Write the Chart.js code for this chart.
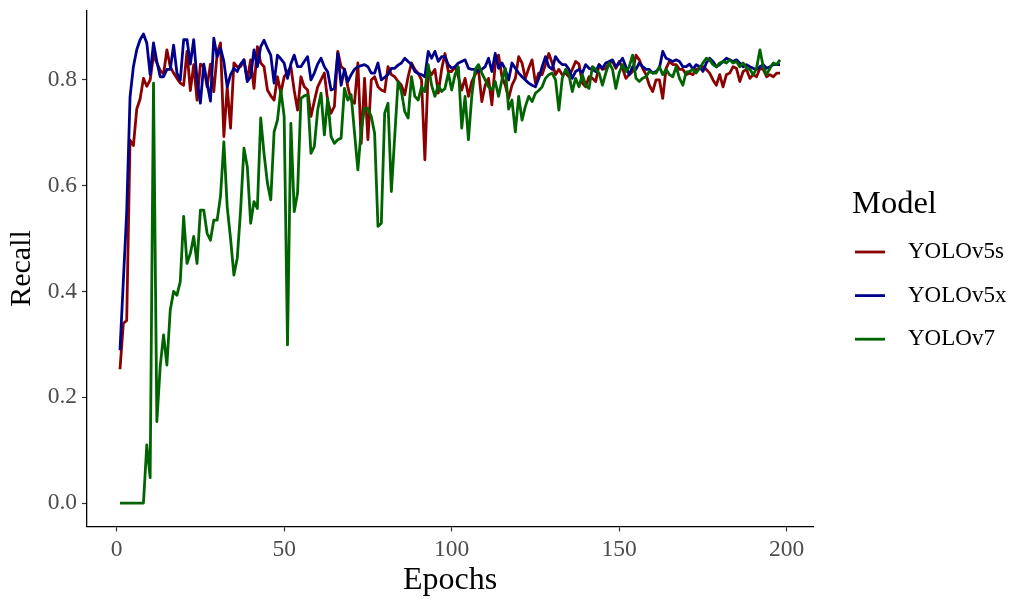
<!DOCTYPE html>
<html>
<head>
<meta charset="utf-8">
<script src="https://cdn.jsdelivr.net/npm/chart.js@4.4.1/dist/chart.umd.min.js"></script>
<style>
html,body{margin:0;padding:0;background:#ffffff;}
#wrap{width:1022px;height:602px;position:relative;}
</style>
</head>
<body>
<div id="wrap"><canvas id="c" width="1022" height="602"></canvas></div>
<script>
// ---- data (Recall per epoch, epochs 1..198) ----
const seriesNames = ["YOLOv5s", "YOLOv5x", "YOLOv7"];
const seriesColors = ["#8B0000", "#00008B", "#006400"];

const yolov5s = [
0.253,0.340,0.345,0.686,0.676,0.745,0.764,0.803,0.788,0.800,
0.847,0.832,0.818,0.811,0.857,0.825,0.813,0.803,0.794,0.790,
0.854,0.780,0.829,0.762,0.830,0.825,0.787,0.830,0.778,0.850,
0.870,0.693,0.787,0.709,0.832,0.825,0.825,0.838,0.800,0.838,
0.784,0.863,0.832,0.825,0.781,0.770,0.762,0.806,0.775,0.806,
0.815,0.825,0.780,0.743,0.806,0.787,0.781,0.731,0.760,0.787,
0.800,0.813,0.760,0.737,0.750,0.854,0.825,0.820,0.787,0.762,
0.756,0.832,0.680,0.803,0.687,0.800,0.806,0.787,0.781,0.778,
0.825,0.810,0.806,0.797,0.790,0.772,0.806,0.832,0.820,0.813,
0.800,0.649,0.820,0.810,0.820,0.775,0.820,0.850,0.816,0.816,
0.825,0.806,0.781,0.803,0.769,0.797,0.810,0.820,0.759,0.790,
0.803,0.753,0.832,0.847,0.806,0.790,0.765,0.790,0.803,0.844,
0.832,0.803,0.822,0.838,0.794,0.813,0.810,0.829,0.850,0.832,
0.810,0.820,0.810,0.813,0.806,0.820,0.835,0.830,0.794,0.787,
0.806,0.803,0.797,0.829,0.820,0.822,0.832,0.835,0.822,0.835,
0.822,0.803,0.810,0.816,0.847,0.838,0.822,0.810,0.790,0.778,
0.800,0.800,0.765,0.822,0.835,0.829,0.829,0.820,0.820,0.810,
0.813,0.810,0.820,0.822,0.825,0.820,0.813,0.800,0.790,0.810,
0.787,0.810,0.813,0.825,0.822,0.797,0.816,0.820,0.803,0.810,
0.806,0.822,0.820,0.806,0.810,0.806,0.813,0.813
];

const yolov5x = [
0.289,0.420,0.550,0.768,0.825,0.857,0.876,0.887,0.870,0.810,
0.870,0.835,0.806,0.806,0.820,0.820,0.866,0.813,0.800,0.876,
0.876,0.830,0.876,0.800,0.756,0.830,0.794,0.760,0.879,0.844,
0.860,0.835,0.787,0.810,0.822,0.816,0.830,0.838,0.797,0.806,
0.857,0.825,0.863,0.875,0.860,0.847,0.794,0.847,0.840,0.832,
0.803,0.830,0.847,0.825,0.825,0.835,0.844,0.800,0.813,0.830,
0.841,0.825,0.815,0.781,0.784,0.850,0.790,0.820,0.797,0.810,
0.820,0.825,0.827,0.829,0.825,0.813,0.813,0.832,0.800,0.805,
0.810,0.822,0.822,0.828,0.832,0.841,0.835,0.829,0.816,0.812,
0.810,0.806,0.854,0.841,0.854,0.835,0.844,0.844,0.829,0.822,
0.825,0.832,0.835,0.838,0.822,0.820,0.820,0.816,0.820,0.825,
0.841,0.816,0.850,0.822,0.832,0.820,0.800,0.832,0.822,0.813,
0.806,0.800,0.794,0.790,0.787,0.803,0.825,0.844,0.825,0.820,
0.844,0.835,0.829,0.829,0.820,0.803,0.816,0.820,0.813,0.829,
0.822,0.820,0.816,0.829,0.822,0.832,0.835,0.838,0.825,0.832,
0.841,0.825,0.810,0.825,0.820,0.832,0.825,0.820,0.820,0.813,
0.816,0.822,0.854,0.841,0.838,0.835,0.838,0.835,0.825,0.825,
0.830,0.820,0.829,0.825,0.816,0.832,0.841,0.835,0.825,0.829,
0.835,0.841,0.838,0.835,0.838,0.832,0.825,0.829,0.825,0.822,
0.820,0.825,0.829,0.822,0.825,0.829,0.829,0.829
];

const yolov7 = [
0.000,0.000,0.000,0.000,0.000,0.000,0.000,0.000,0.110,0.048,
0.794,0.154,0.258,0.318,0.261,0.365,0.400,0.393,0.419,0.542,
0.453,0.472,0.504,0.453,0.554,0.554,0.510,0.497,0.535,0.535,
0.580,0.683,0.560,0.500,0.431,0.463,0.554,0.671,0.636,0.529,
0.570,0.557,0.728,0.660,0.605,0.573,0.702,0.724,0.781,0.731,
0.299,0.718,0.551,0.586,0.765,0.770,0.772,0.661,0.674,0.743,
0.775,0.696,0.765,0.693,0.680,0.687,0.690,0.784,0.762,0.772,
0.700,0.630,0.706,0.746,0.746,0.731,0.699,0.523,0.529,0.737,
0.756,0.589,0.693,0.797,0.778,0.740,0.728,0.806,0.769,0.762,
0.787,0.778,0.829,0.790,0.769,0.790,0.778,0.784,0.813,0.781,
0.810,0.825,0.709,0.769,0.687,0.769,0.820,0.829,0.813,0.800,
0.787,0.781,0.797,0.769,0.800,0.822,0.745,0.762,0.702,0.769,
0.724,0.750,0.769,0.759,0.775,0.780,0.787,0.803,0.810,0.813,
0.800,0.743,0.803,0.820,0.810,0.778,0.803,0.787,0.810,0.790,
0.784,0.825,0.820,0.813,0.790,0.813,0.832,0.820,0.784,0.813,
0.829,0.816,0.825,0.847,0.803,0.797,0.803,0.806,0.816,0.813,
0.813,0.825,0.810,0.820,0.810,0.806,0.825,0.803,0.790,0.815,
0.816,0.820,0.813,0.822,0.832,0.841,0.838,0.829,0.825,0.832,
0.835,0.832,0.838,0.832,0.835,0.825,0.832,0.822,0.820,0.810,
0.822,0.857,0.825,0.810,0.822,0.832,0.829,0.838
];

const xTicks = [0, 50, 100, 150, 200];
const yTicks = [0.0, 0.2, 0.4, 0.6, 0.8];
const xTitle = "Epochs";
const yTitle = "Recall";
const legendTitle = "Model";

const epochs = yolov5s.map((_, i) => i + 1);
const allSeries = [yolov5s, yolov5x, yolov7];

const FONT = '"Liberation Serif", "Times New Roman", serif';

const datasets = allSeries.map((arr, k) => ({
  label: seriesNames[k],
  data: arr.map((v, i) => ({x: epochs[i], y: v})),
  borderColor: seriesColors[k],
  backgroundColor: seriesColors[k],
  borderWidth: 2.8,
  pointRadius: 0,
  pointHoverRadius: 0,
  tension: 0,
  fill: false,
  borderJoinStyle: 'round',
  borderCapStyle: 'butt',
  order: 2 - k
}));

const legendPlugin = {
  id: 'ggLegend',
  afterDraw(chart) {
    const ctx = chart.ctx;
    ctx.save();
    ctx.textBaseline = 'middle';
    ctx.textAlign = 'left';
    ctx.fillStyle = '#000';
    ctx.font = '32.5px ' + FONT;
    ctx.fillText(legendTitle, 852, 204);
    ctx.font = '23px ' + FONT;
    seriesNames.forEach((name, i) => {
      const y = 252 + i * 43.6;
      ctx.strokeStyle = seriesColors[i];
      ctx.lineWidth = 2.8;
      ctx.lineCap = 'butt';
      ctx.beginPath();
      ctx.moveTo(855, y);
      ctx.lineTo(885, y);
      ctx.stroke();
      ctx.fillStyle = '#000';
      ctx.fillText(name, 908, y);
    });
    ctx.restore();
  }
};

function zeroPad(scale) {
  scale.paddingTop = 0; scale.paddingBottom = 0;
  scale.paddingLeft = 0; scale.paddingRight = 0;
}

new Chart(document.getElementById('c'), {
  type: 'line',
  data: { datasets },
  options: {
    responsive: false,
    animation: false,
    devicePixelRatio: 1,
    events: [],
    layout: { padding: { left: 0, right: 209, top: 10.5, bottom: 0 } },
    plugins: { legend: { display: false }, tooltip: { enabled: false } },
    scales: {
      x: {
        type: 'linear',
        min: -8.85,
        max: 207.85,
        afterBuildTicks(scale) { scale.ticks = xTicks.map(v => ({value: v})); },
        afterFit(scale) { scale.height = 75.5; zeroPad(scale); },
        grid: { drawOnChartArea: false, drawTicks: true, tickLength: 5, color: '#333333', tickWidth: 1.2 },
        border: { display: true, color: '#000000', width: 1.3 },
        ticks: {
          color: '#4D4D4D',
          font: { family: FONT, size: 23.5 },
          padding: 4,
          maxRotation: 0,
          autoSkip: false,
          callback: v => String(v)
        },
        title: {
          display: true,
          text: xTitle,
          color: '#000',
          font: { family: FONT, size: 32 },
          padding: { top: 0, bottom: 2 }
        }
      },
      y: {
        type: 'linear',
        min: -0.04435,
        max: 0.9313,
        afterBuildTicks(scale) { scale.ticks = yTicks.map(v => ({value: v})); },
        afterFit(scale) { scale.width = 87; zeroPad(scale); },
        grid: { drawOnChartArea: false, drawTicks: true, tickLength: 5, color: '#333333', tickWidth: 1.2 },
        border: { display: true, color: '#000000', width: 1.3 },
        ticks: {
          color: '#4D4D4D',
          font: { family: FONT, size: 23.5 },
          padding: 5,
          autoSkip: false,
          callback: v => Number(v).toFixed(1)
        },
        title: {
          display: true,
          text: yTitle,
          color: '#000',
          font: { family: FONT, size: 30 },
          padding: { top: 4, bottom: 0 }
        }
      }
    }
  },
  plugins: [legendPlugin]
});
</script>
</body>
</html>
